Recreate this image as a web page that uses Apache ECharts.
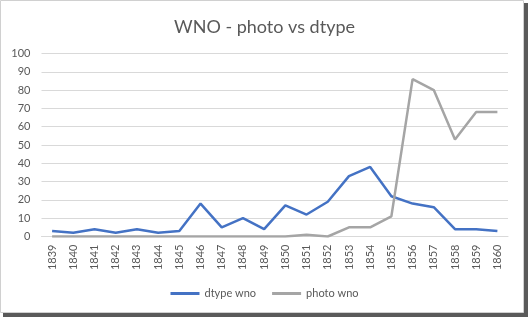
<!DOCTYPE html>
<html>
<head>
<meta charset="utf-8">
<script src="https://cdn.jsdelivr.net/npm/echarts@6/dist/echarts.min.js"></script>
<style>html,body{margin:0;padding:0;background:#fff;}#c{width:529px;height:319px;}</style>
</head>
<body>
<div id="c"></div>
<script>
var years = ['1839','1840','1841','1842','1843','1844','1845','1846','1847','1848','1849','1850','1851','1852','1853','1854','1855','1856','1857','1858','1859','1860'];
var dtypeWno = [3,2,4,2,4,2,3,18,5,10,4,17,12,19,33,38,22,18,16,4,4,3];
var photoWno = [0,0,0,0,0,0,0,0,0,0,0,0,1,0,5,5,11,86,80,53,68,68];
var yTicks = [0,10,20,30,40,50,60,70,80,90,100];

var font = 'Lato, "Open Sans", sans-serif';
var chart = echarts.init(document.getElementById('c'), null, {renderer:'canvas'});
chart.setOption({
  animation: false,
  backgroundColor: '#fff',
  graphic: [
    {type:'rect', z:-10, shape:{x:3, y:3, width:525, height:314}, style:{fill:'#5a5a5a'}},
    {type:'rect', z:-9, shape:{x:0.5, y:0.5, width:523, height:312}, style:{fill:'#fff', stroke:'#d0d0d0', lineWidth:1}}
  ],
  title: {
    text: 'WNO - photo vs dtype',
    left: 'center', top: 13,
    textStyle: {fontFamily: font, fontSize: 18, fontWeight: 'normal', color: '#595959'}
  },
  grid: {left: 41.5, right: 21, top: 53.5, bottom: 82.5, containLabel: false},
  xAxis: {
    type: 'category', data: years, boundaryGap: true,
    axisLine: {show: true, lineStyle: {color: '#d9d9d9', width: 1}},
    axisTick: {show: false},
    axisLabel: {rotate: 90, fontFamily: font, fontSize: 11, color: '#595959', margin: 8}
  },
  yAxis: {
    type: 'value', min: yTicks[0], max: yTicks[yTicks.length-1], interval: 10,
    axisLine: {show: false}, axisTick: {show: false},
    axisLabel: {fontFamily: font, fontSize: 11, color: '#595959', margin: 11},
    splitLine: {lineStyle: {color: '#d9d9d9', width: 1}}
  },
  legend: {
    bottom: 15, left: 'center', itemWidth: 29, itemHeight: 3, itemGap: 16, icon: 'rect',
    textStyle: {fontFamily: font, fontSize: 11, color: '#595959'},
    data: ['dtype wno', 'photo wno']
  },
  series: [
    {name: 'dtype wno', type: 'line', data: dtypeWno, symbol: 'none',
     lineStyle: {color: '#4472c4', width: 2.5}, itemStyle: {color: '#4472c4'}},
    {name: 'photo wno', type: 'line', data: photoWno, symbol: 'none',
     lineStyle: {color: '#a5a5a5', width: 2.5}, itemStyle: {color: '#a5a5a5'}}
  ]
});
</script>
</body>
</html>
